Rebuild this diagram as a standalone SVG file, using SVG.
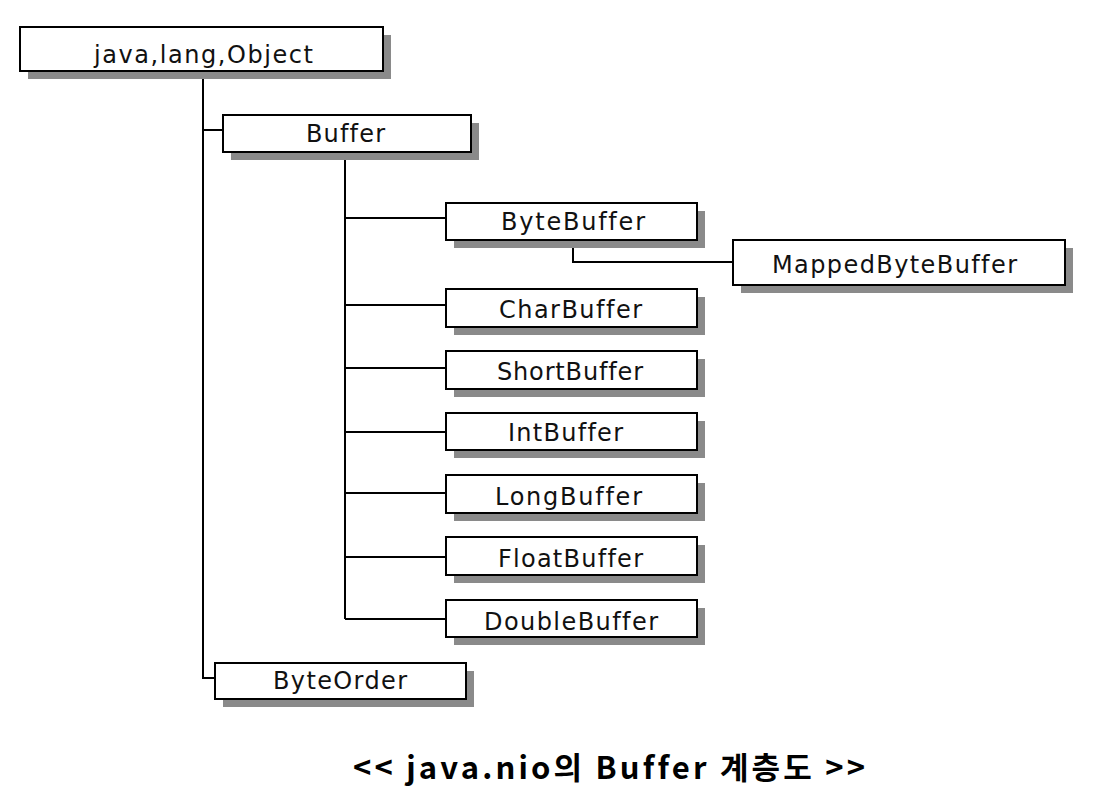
<svg xmlns="http://www.w3.org/2000/svg" width="1106" height="810" viewBox="0 0 1106 810">
<style>
.sh{fill:#8a8a8a;stroke:none}
.bx{fill:#fff;stroke:#000;stroke-width:2}
.lb{font-family:"DejaVu Sans","Liberation Sans",sans-serif;font-size:24px;fill:#111;text-anchor:middle;font-variant-ligatures:none}
.cn{fill:none;stroke:#000;stroke-width:2}
.cap{font-family:"Noto Sans CJK KR","Noto Sans",sans-serif;font-size:31px;font-weight:bold;fill:#000;font-variant-ligatures:none}
</style>
<rect width="1106" height="810" fill="#fff"/>
<g id="connectors">
<path class="cn" d="M203 71 V678 H215"/>
<path class="cn" d="M203 130 H223"/>
<path class="cn" d="M345 152 V619"/>
<path class="cn" d="M345 218 H446"/>
<path class="cn" d="M345 305 H446"/>
<path class="cn" d="M345 368 H446"/>
<path class="cn" d="M345 432 H446"/>
<path class="cn" d="M345 493 H446"/>
<path class="cn" d="M345 557 H446"/>
<path class="cn" d="M345 619 H446"/>
<path class="cn" d="M573 240 V262 H733"/>
</g>
<g id="node-object">
<rect class="sh" x="28" y="35" width="363" height="44"/>
<rect class="bx" x="20" y="27" width="363" height="44"/>
<text class="lb" x="203.5" y="63" textLength="219" lengthAdjust="spacing">java,lang,Object</text>
</g>
<g id="node-buffer">
<rect class="sh" x="231" y="123" width="248" height="37"/>
<rect class="bx" x="223" y="115" width="248" height="37"/>
<text class="lb" x="345.5" y="142" textLength="79" lengthAdjust="spacing">Buffer</text>
</g>
<g id="node-bytebuffer">
<rect class="sh" x="454" y="211" width="251" height="37"/>
<rect class="bx" x="446" y="203" width="251" height="37"/>
<text class="lb" x="573" y="230" textLength="144" lengthAdjust="spacing">ByteBuffer</text>
</g>
<g id="node-mappedbytebuffer">
<rect class="sh" x="741" y="248" width="332" height="45"/>
<rect class="bx" x="733" y="240" width="332" height="45"/>
<text class="lb" x="894.5" y="273" textLength="245" lengthAdjust="spacing">MappedByteBuffer</text>
</g>
<g id="node-charbuffer">
<rect class="sh" x="454" y="297" width="251" height="38"/>
<rect class="bx" x="446" y="289" width="251" height="38"/>
<text class="lb" x="570.5" y="318" textLength="143" lengthAdjust="spacing">CharBuffer</text>
</g>
<g id="node-shortbuffer">
<rect class="sh" x="454" y="359" width="251" height="38"/>
<rect class="bx" x="446" y="351" width="251" height="38"/>
<text class="lb" x="570" y="380" textLength="146" lengthAdjust="spacing">ShortBuffer</text>
</g>
<g id="node-intbuffer">
<rect class="sh" x="454" y="421" width="251" height="37"/>
<rect class="bx" x="446" y="413" width="251" height="37"/>
<text class="lb" x="565.5" y="441" textLength="115" lengthAdjust="spacing">IntBuffer</text>
</g>
<g id="node-longbuffer">
<rect class="sh" x="454" y="483" width="251" height="38"/>
<rect class="bx" x="446" y="475" width="251" height="38"/>
<text class="lb" x="568.5" y="505" textLength="147" lengthAdjust="spacing">LongBuffer</text>
</g>
<g id="node-floatbuffer">
<rect class="sh" x="454" y="545" width="251" height="38"/>
<rect class="bx" x="446" y="537" width="251" height="38"/>
<text class="lb" x="570.5" y="567" textLength="145" lengthAdjust="spacing">FloatBuffer</text>
</g>
<g id="node-doublebuffer">
<rect class="sh" x="454" y="608" width="251" height="37"/>
<rect class="bx" x="446" y="600" width="251" height="37"/>
<text class="lb" x="571" y="630" textLength="174" lengthAdjust="spacing">DoubleBuffer</text>
</g>
<g id="node-byteorder">
<rect class="sh" x="223" y="671" width="251" height="36"/>
<rect class="bx" x="215" y="663" width="251" height="36"/>
<text class="lb" x="340" y="689" textLength="134" lengthAdjust="spacing">ByteOrder</text>
</g>
<g id="caption">
<text class="cap" x="353" y="779" textLength="512" lengthAdjust="spacing">&lt;&lt; java.nio의 Buffer 계층도 &gt;&gt;</text>
</g>
</svg>
